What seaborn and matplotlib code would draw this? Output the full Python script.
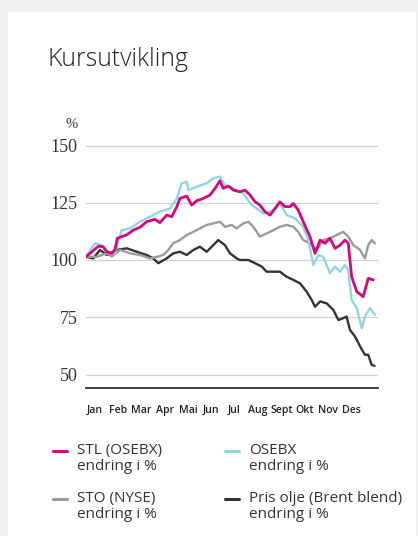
import numpy as np
import pandas as pd
import matplotlib
matplotlib.use("Agg")
import matplotlib.pyplot as plt
from matplotlib.lines import Line2D
from matplotlib.patches import Rectangle
import seaborn as sns

# ---------------- data (month position 0..12, index value) ----------------
stl_x = [0, 0.51, 0.71, 0.86, 1.07, 1.20, 1.30, 1.69, 1.96, 2.24, 2.52, 2.86, 3.07, 3.35, 3.56,
         3.77, 3.90, 4.18, 4.39, 4.60, 4.87, 5.15, 5.36, 5.56, 5.70, 5.91, 6.12, 6.39, 6.60, 6.81,
         7.02, 7.22, 7.43, 7.64, 7.85, 8.05, 8.26, 8.47, 8.61, 8.81, 9.02, 9.30, 9.51, 9.72, 9.92,
         10.13, 10.34, 10.55, 10.75, 10.89, 10.96, 11.03, 11.24, 11.51, 11.72, 11.93]
stl_y = [101.4, 106, 105.8, 103.6, 102.9, 104.4, 109.5, 111, 113, 114.3, 116.7, 117.8, 116.3, 119.6, 118.9,
         123.3, 126.9, 127.9, 124, 125.9, 126.9, 128.4, 131.3, 134.6, 131.3, 132.3, 130.5, 129.8, 130.5, 128.4,
         125.4, 124, 121.1, 119.6, 122.5, 125.4, 123.3, 123.3, 124.7, 121.8, 116.7, 110.2, 102.9, 108.7, 107.3,
         109.5, 105.1, 106.5, 108.7, 107.3, 100, 92.7, 86.2, 84, 92, 91.3]

osebx_x = [0, 0.37, 0.65, 1.0, 1.20, 1.48, 1.83, 2.24, 2.66, 3.07, 3.49, 3.77, 3.97, 4.18, 4.25, 4.60,
           5.01, 5.29, 5.56, 5.77, 6.12, 6.53, 6.88, 7.09, 7.36, 7.78, 8.05, 8.33, 8.68, 9.02, 9.23,
           9.44, 9.65, 9.85, 10.13, 10.34, 10.55, 10.75, 10.89, 11.03, 11.24, 11.45, 11.58, 11.79, 12.0]
osebx_y = [101.4, 107.3, 106.5, 102.9, 102.9, 113, 113.8, 116.7, 118.9, 121.1, 122.5, 126.9, 133.5, 134.2, 130.5, 132,
           133.5, 135.7, 136.4, 132.7, 131.3, 129.1, 124, 122.5, 120.3, 121.8, 124.7, 119.6, 118.2, 114.5, 108.7,
           97.8, 102.2, 101.4, 94.2, 97.1, 94.9, 97.8, 95.6, 82.6, 79, 70.2, 75.3, 79, 76]

sto_x = [0, 0.44, 0.86, 1.07, 1.41, 1.83, 2.24, 2.66, 2.94, 3.21, 3.42, 3.62, 3.90, 4.18, 4.46, 4.73,
         5.01, 5.29, 5.56, 5.77, 6.05, 6.26, 6.53, 6.74, 6.95, 7.22, 7.50, 7.78, 8.05, 8.33, 8.61,
         8.81, 9.02, 9.30, 9.58, 9.85, 10.13, 10.41, 10.68, 10.89, 11.10, 11.38, 11.58, 11.72, 11.86, 12.0]
sto_y = [101.4, 101.4, 102.9, 101.5, 104.4, 102.9, 102.2, 100.7, 101.4, 102.2, 104.4, 107.3, 108.7, 110.9, 112.3, 113.8,
         115.3, 116, 116.7, 114.5, 115.3, 113.8, 116, 116.7, 114.5, 110.2, 111.6, 113, 114.5, 115.3, 114.5,
         112.3, 108.7, 107.3, 104.4, 108.7, 109.5, 110.9, 112.3, 110.2, 106.5, 104.4, 100.7, 106.5, 108.7, 107.3]

oil_x = [0, 0.30, 0.58, 0.86, 1.27, 1.69, 2.11, 2.52, 2.79, 3.00, 3.35, 3.62, 3.90, 4.18, 4.46, 4.73,
         5.01, 5.22, 5.49, 5.77, 5.98, 6.26, 6.39, 6.74, 7.02, 7.30, 7.50, 7.78, 8.05, 8.33, 8.61,
         8.89, 9.16, 9.37, 9.51, 9.72, 9.99, 10.27, 10.48, 10.68, 10.82, 10.96, 11.17, 11.38, 11.58,
         11.72, 11.86, 11.98]
oil_y = [101.4, 100.7, 104.4, 102.2, 104.4, 105.1, 103.6, 102.2, 100.7, 98.6, 100.7, 102.9, 103.6, 102.2, 104.4, 105.8,
         103.6, 105.8, 108.7, 106.5, 102.9, 100.7, 100, 100, 98.6, 97.1, 94.9, 94.9, 94.9, 92.7, 91.3,
         89.8, 86.2, 82.6, 79.6, 81.9, 81.1, 78.2, 73.8, 74.6, 75.3, 69.5, 66.6, 62.3, 58.6,
         58.6, 54.2, 53.8]

series_names = ["STL (OSEBX)", "OSEBX", "STO (NYSE)", "Pris olje (Brent blend)"]
legend_labels = ["STL (OSEBX)\nendring i %", "OSEBX\nendring i %",
                 "STO (NYSE)\nendring i %", "Pris olje (Brent blend)\nendring i %"]
months = ["Jan", "Feb", "Mar", "Apr", "Mai", "Jun", "Jul", "Aug", "Sept", "Okt", "Nov", "Des"]
y_ticks = [50, 75, 100, 125, 150]

# ---------------- styling ----------------
colors = {"STL (OSEBX)": "#d4087e", "OSEBX": "#92d5e2",
          "STO (NYSE)": "#9b9b9b", "Pris olje (Brent blend)": "#333333"}
widths = {"STL (OSEBX)": 2.0, "OSEBX": 1.7, "STO (NYSE)": 1.7, "Pris olje (Brent blend)": 1.7}

frames = []
for name, xs, ys in [("STL (OSEBX)", stl_x, stl_y), ("OSEBX", osebx_x, osebx_y),
                     ("STO (NYSE)", sto_x, sto_y), ("Pris olje (Brent blend)", oil_x, oil_y)]:
    frames.append(pd.DataFrame({"x": xs, "y": ys, "serie": name}))
df = pd.concat(frames, ignore_index=True)

sns.set_theme(style="white")
plt.rcParams["font.family"] = ["Open Sans", "DejaVu Sans"]

W, H = 418, 536
fig = plt.figure(figsize=(W / 100, H / 100), dpi=100)
fig.patch.set_facecolor("#f1f1f1")
fig.add_artist(Rectangle((8 / W, 0), (W - 10) / W, 1 - 12 / H, transform=fig.transFigure,
                         facecolor="white", edgecolor="none", zorder=0))

left, right = 86 / W, 378 / W
bottom, top = 1 - 388 / H, 1 - 144 / H
ax = fig.add_axes([left, bottom, right - left, top - bottom])
ax.set_facecolor("none")

# draw order: oil, sto, osebx, stl on top
for name in ["Pris olje (Brent blend)", "STO (NYSE)", "OSEBX", "STL (OSEBX)"]:
    sns.lineplot(data=df[df["serie"] == name], x="x", y="y", color=colors[name],
                 lw=widths[name], ax=ax, legend=False, sort=False, estimator=None)

xmax = 12 * (378 - 86) / (375 - 86)
ax.set_xlim(0, xmax)
ymin = 100 - (388 - 260) * 25 / 57.25
ymax = 100 + (260 - 144) * 25 / 57.25
ax.set_ylim(ymin, ymax)

for v in y_ticks:
    ax.axhline(v, color="#d2d2d2", lw=0.9, zorder=0)
ax.set_yticks(y_ticks)
ax.set_yticklabels([str(v) for v in y_ticks], family=["Liberation Serif"], fontsize=13, color="#333333")
ax.tick_params(axis="y", length=0, pad=6)

tick_pos = [0.37 + 0.967 * i for i in range(12)]
ax.set_xticks(tick_pos)
ax.set_xticklabels(months, fontsize=7.6, color="#222222", fontweight="semibold")
for lab in ax.get_xticklabels():
    lab.set_verticalalignment("baseline")
ax.tick_params(axis="x", length=0, pad=18)

for s in ["top", "right", "left"]:
    ax.spines[s].set_visible(False)
ax.spines["bottom"].set_color("#333333")
ax.spines["bottom"].set_linewidth(1.3)
ax.set_xlabel("")
ax.set_ylabel("")

fig.text(72 / W, 1 - 125 / H, "%", ha="center", va="center", fontsize=10.5, color="#333333",
         family=["Liberation Serif"])
fig.text(47 / W, 1 - 60 / H, "Kursutvikling", ha="left", va="center", fontsize=17.8,
         color="#222222", fontweight="light")

# legend
leg_pos = [(53, 451), (225, 451), (53, 499), (225, 499)]
for (lx, ly), name, lab in zip(leg_pos, series_names, legend_labels):
    fig.add_artist(Line2D([lx / W, (lx + 14) / W], [1 - ly / H, 1 - ly / H], transform=fig.transFigure,
                          color=colors[name], lw=2.2))
    fig.text((lx + 24) / W, 1 - (ly - 8) / H, lab, ha="left", va="top", fontsize=11,
             color="#333333", linespacing=1.1)

fig.savefig("out.png", dpi=100, facecolor=fig.get_facecolor())
